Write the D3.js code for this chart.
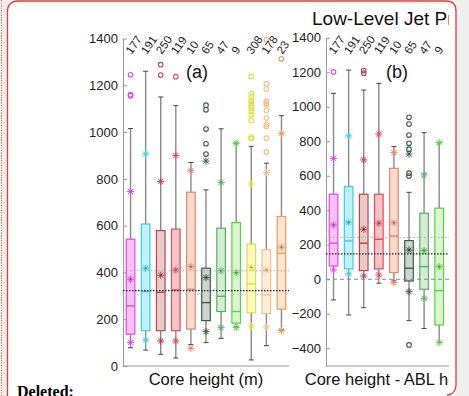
<!DOCTYPE html>
<html>
<head>
<meta charset="utf-8"/>
<title>Low-Level Jet boxplots</title>
<script src="https://d3js.org/d3.v7.min.js"></script>
<style>
  body { margin: 0; background: #efefef; }
  svg { display: block; font-family: "Liberation Sans", Arial, sans-serif; }
</style>
</head>
<body>
<svg width="469" height="396"></svg>
<script>
// ---- data ----
var countsA = ["177","191","250","119","10","65","47","9","308","178","23"];
var countsB = ["177","191","250","119","10","65","47","9"];

var strokes = ["#e04ade","#3ccde0","#b3464f","#e6475a","#e6866a","#3e5e45","#58b062","#5ccf45","#e4de3c","#efc288","#e89e5e"];
var fills   = ["#f8b6f5","#b6eef7","#e8bfc0","#f8b9bf","#f9d2c6","#c3cec5","#cde9ce","#d5f3cb","#f9f9b6","#fdead5","#fbe1c9"];

// panel (a): core height (m)
var loA  = [78, 68, 50, 34, 92, 100, 118, 167, 26, 87, 154];
var q1A  = [136, 151, 151, 151, 158, 194, 233, 183, 228, 225, 243];
var medA = [257, 318, 315, 325, 328, 271, 298, 233, 351, 304, 482];
var q3A  = [542, 607, 579, 585, 743, 418, 589, 613, 521, 497, 639];
var hiA  = [1015, 1260, 1150, 1113, 870, 753, 1014, 953, 939, 867, 1070];
var meanA = [371, 418, 388, 410, 425, 378, 407, 399, 422, 411, 508];
var p10A  = [101, 111, 107, 107, 76, 147, 164, 164, 171, 167, 151];
var p90A  = [746, 906, 789, 900, 836, 876, 785, 953, 778, 827, 993];
var outA = [
  [1245, 1160, 1155],
  [],
  [1288, 1244],
  [1237],
  [],
  [1115, 1095, 1013, 950, 906],
  [],
  [],
  [1238, 1164, 1150, 1136, 1124, 1113, 1103, 1089, 1075, 1050, 979, 973],
  [1395, 1207, 1184, 1131, 1124, 1117, 1093, 1060, 1032, 1024, 974, 915],
  [1313]
];
var refA = [322, 407];

// panel (b): core height - ABL height (m)
var loB  = [-120, -207, -165, -23, -10, -240, -286, -367];
var q1B  = [77, 60, 50, 60, 38, -10, -58, -265];
var medB = [209, 222, 209, 232, 251, 64, 73, -66];
var q3B  = [493, 537, 493, 493, 643, 224, 383, 412];
var hiB  = [1078, 1213, 1097, 1136, 769, 504, 850, 792];
var meanB = [315, 330, 290, 325, 328, 170, 166, 73];
var p10B  = [54, 31, 19, 25, -20, -72, -110, -367];
var p90B  = [701, 831, 692, 842, 734, 726, 605, 792];
var outB = [
  [1202],
  [],
  [1210, 1195],
  [],
  [],
  [939, 900, 836, 788, 754, 615, 598, -381],
  [],
  []
];
var refB = [147, 243];

var ticksA = d3.range(0, 1401, 200);
var ticksB = d3.range(-400, 1401, 200);

// ---- drawing ----
var svg = d3.select("svg");

// page frame (comment box)
svg.append("rect").attr("x", 8).attr("y", 0).attr("width", 448).attr("height", 396).attr("fill", "#fff");
svg.append("line").attr("x1", 1.5).attr("x2", 1.5).attr("y1", 0).attr("y2", 396)
  .attr("stroke", "#e05050").attr("stroke-width", 1).attr("stroke-dasharray", "1,1.5");
svg.append("path")
  .attr("d", "M7.5,396 L7.5,12 Q7.5,1 18,1 L446,1 Q456,1 456,11 L456,385 Q456,394 447,395")
  .attr("fill", "none").attr("stroke", "#e33a3a").attr("stroke-width", 1.3);

svg.append("clipPath").attr("id", "fig")
  .append("rect").attr("x", 9).attr("y", 2).attr("width", 440).attr("height", 394);

var fig = svg.append("g").attr("clip-path", "url(#fig)");

function asterisk(g, x, y, c) {
  var r = 3.6;
  var p = "M" + (x - r) + "," + y + "H" + (x + r) +
          "M" + x + "," + (y - r) + "V" + (y + r) +
          "M" + (x - r * 0.72) + "," + (y - r * 0.72) + "L" + (x + r * 0.72) + "," + (y + r * 0.72) +
          "M" + (x - r * 0.72) + "," + (y + r * 0.72) + "L" + (x + r * 0.72) + "," + (y - r * 0.72);
  g.append("path").attr("d", p).attr("stroke", c).attr("stroke-width", 1).attr("fill", "none");
}

function panel(opt) {
  var x = d3.scaleLinear().domain([0.5, 11.5]).range([opt.left, opt.left + 166]);
  var y = d3.scaleLinear().domain(opt.ydom).range([366, opt.ytop]);
  var g = fig.append("g");
  var n = opt.counts.length;
  var bw = 8.6;

  // y axis with inward ticks
  var ax = g.append("g").attr("transform", "translate(" + opt.left + ",0)")
    .call(d3.axisLeft(y).tickValues(opt.ticks).tickFormat(d3.format("d"))
      .tickSizeInner(-4).tickSizeOuter(0).tickPadding(5));
  ax.select(".domain").attr("stroke", "#999");
  ax.selectAll(".tick line").attr("stroke", "#999");
  ax.selectAll(".tick text").attr("fill", "#222").style("font-size", "13px");

  // x axis line (no ticks)
  g.append("line").attr("x1", opt.left).attr("x2", opt.left + 166)
    .attr("y1", 366).attr("y2", 366).attr("stroke", "#999");

  d3.range(n).forEach(function(i) {
    var cx = x(i + 1);
    var col = strokes[i];
    // whiskers
    g.append("line").attr("x1", cx).attr("x2", cx).attr("y1", y(opt.hi[i])).attr("y2", y(opt.q3[i]))
      .attr("stroke", "#8a8a8a").attr("stroke-width", 1.4);
    g.append("line").attr("x1", cx).attr("x2", cx).attr("y1", y(opt.q1[i])).attr("y2", y(opt.lo[i]))
      .attr("stroke", "#8a8a8a").attr("stroke-width", 1.4);
    [opt.hi[i], opt.lo[i]].forEach(function(v) {
      g.append("line").attr("x1", cx - 2.5).attr("x2", cx + 2.5).attr("y1", y(v)).attr("y2", y(v))
        .attr("stroke", "#444").attr("stroke-width", 1);
    });
    // box
    g.append("rect").attr("x", cx - bw / 2).attr("width", bw)
      .attr("y", y(opt.q3[i])).attr("height", y(opt.q1[i]) - y(opt.q3[i]))
      .attr("fill", fills[i]).attr("fill-opacity", 0.85)
      .attr("stroke", col).attr("stroke-width", 1.2);
    g.append("line").attr("x1", cx - bw / 2).attr("x2", cx + bw / 2)
      .attr("y1", y(opt.med[i])).attr("y2", y(opt.med[i]))
      .attr("stroke", col).attr("stroke-width", 1.4);
    // outliers
    opt.out[i].forEach(function(v) {
      g.append("circle").attr("cx", cx).attr("cy", y(v)).attr("r", 2.3)
        .attr("fill", "none").attr("stroke", col).attr("stroke-width", 1.1);
    });
    // percentile and mean markers
    asterisk(g, cx, y(opt.p90[i]), col);
    asterisk(g, cx, y(opt.p10[i]), col);
    asterisk(g, cx, y(opt.mean[i]), col);
    g.append("circle").attr("cx", cx).attr("cy", y(opt.mean[i])).attr("r", 0.9).attr("fill", d3.color(col).darker(1));

    // count labels
    var lx = cx + 1, ly = 55;
    g.append("text").attr("x", lx).attr("y", ly)
      .attr("transform", "rotate(-55," + lx + "," + ly + ")")
      .attr("fill", "#222").style("font-size", "11.5px")
      .text(opt.counts[i]);
  });

  // reference lines
  if (opt.zero) {
    g.append("line").attr("x1", opt.left).attr("x2", opt.left + 166)
      .attr("y1", y(0)).attr("y2", y(0))
      .attr("stroke", "#888").attr("stroke-width", 1).attr("stroke-dasharray", "4,3");
  }
  g.append("line").attr("x1", opt.left).attr("x2", opt.left + 166)
    .attr("y1", y(opt.ref[0])).attr("y2", y(opt.ref[0]))
    .attr("stroke", "#222").attr("stroke-width", 1.2).attr("stroke-dasharray", "1.5,1.5");
  g.append("line").attr("x1", opt.left).attr("x2", opt.left + 166)
    .attr("y1", y(opt.ref[1])).attr("y2", y(opt.ref[1]))
    .attr("stroke", "#aaa").attr("stroke-width", 1).attr("stroke-dasharray", "1.5,2");

  g.append("text").attr("x", opt.tagX).attr("y", 78).attr("fill", "#111")
    .style("font-size", "18px").text(opt.tag);
  g.append("text").attr("x", opt.left + 83).attr("y", 385).attr("text-anchor", "middle")
    .attr("fill", "#111").style("font-size", "16.5px").text(opt.xlabel);
}

panel({left: 123, ydom: [0, 1400], ytop: 38.5, ticks: ticksA, counts: countsA,
  lo: loA, q1: q1A, med: medA, q3: q3A, hi: hiA, mean: meanA, p10: p10A, p90: p90A, out: outA,
  ref: refA, zero: false, tag: "(a)", tagX: 186, xlabel: "Core height (m)"});

panel({left: 326, ydom: [-503, 1400], ytop: 37.8, ticks: ticksB, counts: countsB,
  lo: loB, q1: q1B, med: medB, q3: q3B, hi: hiB, mean: meanB, p10: p10B, p90: p90B, out: outB,
  ref: refB, zero: true, tag: "(b)", tagX: 386, xlabel: "Core height - ABL height (m)"});

fig.append("text").attr("x", 312).attr("y", 25).attr("fill", "#111")
  .style("font-size", "19px").text("Low-Level Jet Properties");

svg.append("text").attr("x", 17).attr("y", 397)
  .style("font-family", "'Liberation Serif', 'Times New Roman', serif")
  .style("font-weight", "bold").style("font-size", "16px").attr("fill", "#000")
  .text("Deleted:");
</script>
</body>
</html>
